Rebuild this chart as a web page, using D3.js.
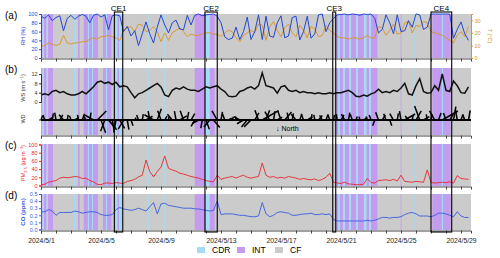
<!DOCTYPE html>
<html>
<head>
<meta charset="utf-8">
<script src="https://cdn.jsdelivr.net/npm/d3@7"></script>
<style>
    body { margin: 0; background: #fff; }
    svg text { font-family: "Liberation Sans", Arial, sans-serif; }
</style>
</head>
<body>
<div id="chart"></div>
<script>
// 6-hourly values, starting 2024/5/1 00:00
var rh = [95, 90, 98, 85, 92, 96, 62, 90, 97, 88, 95, 99, 95, 80, 97, 100,
    93, 98, 64, 96, 98, 96, 60, 72, 50, 62, 28, 55, 82, 55, 34, 70,
    98, 75, 57, 80, 86, 66, 64, 97, 75, 97, 100, 96, 98, 99, 100, 95,
    80, 48, 42, 45, 70, 42, 60, 93, 42, 60, 98, 42, 95, 50, 47, 80,
    96, 46, 50, 92, 95, 41, 60, 95, 45, 55, 98, 100, 60, 80, 90, 98,
    99, 100, 98, 100, 99, 97, 100, 99, 100, 90, 57, 65, 98, 80, 55, 98,
    60, 62, 85, 70, 100, 98, 65, 70, 100, 100, 100, 100, 100, 100, 45, 65,
    82, 55, 40];
var temp = [9, 10, 12, 11, 10, 11, 18, 12, 11, 12, 12, 13, 13, 15, 16, 15,
    17, 17, 18, 17, 16, 14, 22, 24, 25, 21, 27, 26, 21, 22, 25, 21,
    13, 20, 14, 20, 22, 24, 21, 17, 19, 18, 18, 19, 20, 20, 19, 19,
    17, 20, 22, 21, 16, 13, 18, 20, 22, 20, 27, 26, 14, 25, 29, 22,
    17, 24, 27, 20, 17, 26, 22, 16, 25, 23, 17, 18, 26, 22, 20, 17,
    16, 16, 15, 16, 16, 15, 16, 18, 16, 16, 25, 24, 18, 22, 27, 19,
    20, 28, 29, 20, 26, 25, 29, 28, 21, 20, 19, 18, 16, 14, 12, 18,
    21, 17, 25];
var ws = [3, 3.5, 3, 4.5, 5, 4, 4.5, 3.5, 3, 3, 3.5, 4.5, 3.5, 5, 6.5, 8.5,
    9, 8, 8.5, 7.5, 8.5, 6.5, 7, 6.5, 4, 1.8, 3.5, 4, 5, 6, 7, 8,
    6.5, 3, 2.3, 5, 6, 5.5, 6.5, 5.5, 5, 5, 4.5, 5.5, 6.5, 6, 6.5, 7,
    5.5, 4.5, 2.5, 2.3, 2.5, 4.5, 5, 6, 6.5, 5.5, 7, 12.5, 7, 6.5, 6, 3.8,
    6.5, 7, 5, 4.5, 5, 4, 4.5, 4, 4, 3.5, 4, 3.5, 3.5, 4, 3.5, 4,
    4, 4.5, 5, 4, 2.5, 2.3, 3, 2.5, 3.5, 4, 5.5, 4, 4.5, 4, 5, 4.5,
    6, 8, 3.5, 3, 7, 10, 4.5, 3.8, 4, 7, 5, 12, 5, 4.5, 9, 7,
    4, 3.8, 6.5];
var wd = [340, 20, 300, 350, 10, 330, 40, 350, 20, 300, 10, 340, 30, 350, 60, 315,
    200, 160, 220, 190, 170, 210, 150, 190, 200, 330, 20, 350, 300, 10, 60, 340,
    20, 330, 350, 40, 10, 300, 20, 350, 330, 150, 120, 170, 200, 140, 220, 30,
    350, 20, 300, 340, 10, 60, 120, 140, 135, 330, 20, 300, 340, 30, 350, 300,
    20, 320, 10, 350, 40, 340, 20, 300, 350, 10, 320, 30, 340, 20, 350, 10,
    330, 30, 350, 20, 340, 10, 300, 20, 20, 160, 20, 330, 20, 200, 30, 350,
    10, 300, 40, 350, 330, 20, 300, 10, 350, 30, 340, 300, 20, 330, 350, 10,
    340, 20, 350];
var pm25 = [2, 3, 8, 10, 12, 18, 20, 19, 20, 22, 21, 17, 18, 12, 9, 3,
    2, 6, 6, 5, 7, 6, 5, 10, 12, 15, 21, 25, 62, 34, 21, 34,
    45, 72, 42, 38, 35, 30, 28, 25, 22, 20, 18, 15, 12, 10, 9, 25,
    15, 18, 20, 22, 18, 22, 25, 20, 18, 20, 22, 55, 25, 20, 22, 18,
    20, 18, 22, 20, 18, 15, 17, 15, 14, 16, 12, 15, 20, 30, 8, 6,
    5, 8, 4, 3, 2, 2, 3, 17, 7, 6, 12, 13, 14, 12, 15, 11,
    25, 10, 9, 8, 10, 9, 8, 38, 7, 6, 7, 8, 7, 9, 6, 24,
    17, 16, 15];
var co = [.25, .25, .28, .26, .20, .24, .24, .24, .24, .26, .25, .23, .24, .25, .25, .24,
    .21, .20, .20, .21, .28, .31, .29, .28, .27, .28, .30, .28, .26, .32, .38, .22,
    .36, .37, .34, .33, .32, .31, .30, .30, .30, .29, .29, .28, .27, .26, .27, .40,
    .21, .22, .22, .22, .21, .20, .20, .19, .18, .18, .19, .38, .22, .18, .20, .24,
    .25, .24, .23, .20, .20, .21, .22, .22, .23, .21, .21, .22, .21, .22, .14, .12,
    .12, .12, .12, .12, .12, .12, .12, .13, .12, .13, .15, .17, .17, .16, .17, .17,
    .18, .21, .23, .24, .22, .19, .19, .19, .18, .20, .23, .23, .22, .20, .18, .25,
    .19, .17, .17];

// classification periods, in days from 2024/5/1 00:00
var periodType = ["INT", "CDR", "INT", "CDR", "INT", "CDR", "INT", "INT", "CDR", "INT", "CDR", "INT",
    "INT", "CDR", "INT", "CDR", "INT", "CDR", "CDR", "CDR", "INT", "CDR", "INT",
    "CDR", "INT", "CDR", "INT", "CDR", "INT", "CDR", "INT", "CDR", "INT", "CDR", "INT", "CDR", "INT",
    "INT", "CDR", "INT", "CDR", "INT"];
var periodStart = [0, 0.1, 0.2, 0.37, 0.47, 2.2, 2.47, 2.85, 3.13, 3.2, 3.4, 3.47,
    4.13, 4.33, 4.4, 4.98, 5.1, 5.2, 7.13, 8.22, 10.25, 11.0, 11.25,
    19.6, 19.67, 19.8, 19.93, 20.13, 20.27, 20.53, 20.67, 21.0, 21.13, 21.53, 21.71, 21.87, 22.0,
    23.98, 24.87, 26.09, 26.73, 26.8];
var periodEnd = [0.1, 0.2, 0.37, 0.47, 0.8, 2.31, 2.58, 3.13, 3.2, 3.4, 3.47, 3.8,
    4.33, 4.4, 4.69, 5.1, 5.2, 5.35, 7.18, 8.29, 11.0, 11.25, 11.58,
    19.67, 19.8, 19.93, 20.13, 20.27, 20.53, 20.67, 21.0, 21.13, 21.53, 21.71, 21.87, 22.0, 22.42,
    24.03, 24.91, 26.73, 26.8, 27.31];

var events = ["CE1", "CE2", "CE3", "CE4"];
var eventStart = [4.89, 10.93, 19.45, 26.0];
var eventEnd = [5.45, 11.75, 19.65, 27.38];

var legendItems = ["CDR", "INT", "CF"];
var colors = {CDR: "#a5dcf5", INT: "#c39cef", CF: "#cbcbcb"};

var width = 500, height = 258;
var t0 = new Date(2024, 4, 1);
var t1 = new Date(2024, 4, 29, 16);
var day = 864e5;
function toDate(d) { return new Date(t0.getTime() + d * day); }
var times = rh.map(function (d, i) { return toDate(i * 0.25); });

var x = d3.scaleTime().domain([t0, t1]).range([41, 471]);

var svg = d3.select("#chart").append("svg")
    .attr("width", width)
    .attr("height", height);

var panels = [
    {name: "a", top: 14, bottom: 58},
    {name: "b", top: 68, bottom: 135},
    {name: "c", top: 144, bottom: 186},
    {name: "d", top: 194, bottom: 230}
];

panels.forEach(function (p) {
    var g = svg.append("g");
    g.append("rect")
        .attr("x", x.range()[0]).attr("y", p.top)
        .attr("width", x.range()[1] - x.range()[0])
        .attr("height", p.bottom - p.top)
        .attr("fill", colors.CF);
    g.selectAll(".band")
        .data(periodType)
        .enter().append("rect")
        .attr("x", function (d, i) { return x(toDate(periodStart[i])); })
        .attr("y", p.top)
        .attr("width", function (d, i) { return x(toDate(periodEnd[i])) - x(toDate(periodStart[i])); })
        .attr("height", p.bottom - p.top)
        .attr("fill", function (d) { return colors[d]; });

    var xAxis = d3.axisBottom(x)
        .ticks(d3.timeDay.every(1))
        .tickSize(3)
        .tickFormat(function (d) {
            var n = Math.round((d - t0) / day);
            return (p.name === "d" && n % 4 === 0) ? d3.timeFormat("%Y/%-m/%-d")(d) : "";
        });
    var ax = g.append("g")
        .attr("transform", "translate(0," + (p.bottom + 0.5) + ")")
        .call(xAxis);
    ax.select(".domain").attr("stroke", "#444");
    ax.selectAll(".tick line").attr("stroke", "#444");
    ax.selectAll("text").attr("font-size", 6.8).attr("fill", "#222").attr("dy", "0.9em");

    g.append("text")
        .attr("x", 5).attr("y", p.top + 5)
        .attr("font-size", 10)
        .text("(" + p.name + ")");
});

function leftAxis(scale, ticks, color, fmt) {
    var g = svg.append("g")
        .attr("transform", "translate(41,0)")
        .call(d3.axisLeft(scale).tickValues(ticks).tickSize(2).tickPadding(1.5).tickFormat(fmt || d3.format("d")));
    g.select(".domain").attr("stroke", color);
    g.selectAll(".tick line").attr("stroke", color);
    g.selectAll("text").attr("font-size", 5.5).attr("fill", color);
    return g;
}

function yTitle(xPos, yPos, color, size, build) {
    var t = svg.append("text")
        .attr("transform", "translate(" + xPos + "," + yPos + ") rotate(-90)")
        .attr("text-anchor", "middle")
        .attr("font-size", size)
        .attr("fill", color);
    build(t);
    return t;
}

// (a) RH and T
var yRH = d3.scaleLinear().domain([0, 100]).range([58, 14]);
var yT = d3.scaleLinear().domain([0, 35]).range([58, 14]);
var rhColor = "#2346d6", tColor = "#d99420";

svg.append("path")
    .datum(temp)
    .attr("fill", "none").attr("stroke", tColor).attr("stroke-width", 0.9)
    .attr("d", d3.line().x(function (d, i) { return x(times[i]); }).y(function (d) { return yT(d); }));
svg.append("path")
    .datum(rh)
    .attr("fill", "none").attr("stroke", rhColor).attr("stroke-width", 1)
    .attr("d", d3.line().x(function (d, i) { return x(times[i]); }).y(function (d) { return yRH(d); }));

leftAxis(yRH, [0, 20, 40, 60, 80, 100], rhColor);
yTitle(25, 36, rhColor, 5.5, function (t) { t.text("RH (%)"); });

var rAx = svg.append("g")
    .attr("transform", "translate(471,0)")
    .call(d3.axisRight(yT).tickValues([0, 10, 20, 30]).tickSize(2).tickPadding(1.5));
rAx.select(".domain").attr("stroke", tColor);
rAx.selectAll(".tick line").attr("stroke", tColor);
rAx.selectAll("text").attr("font-size", 5.5).attr("fill", tColor);
svg.append("text")
    .attr("transform", "translate(488,36) rotate(90)")
    .attr("text-anchor", "middle")
    .attr("font-size", 5.5)
    .attr("fill", tColor)
    .text("T (°C)");

// (b) WS and WD sticks
var yWS = d3.scaleLinear().domain([0, 12]).range([102, 74]);
svg.append("path")
    .datum(ws)
    .attr("fill", "none").attr("stroke", "#111").attr("stroke-width", 1.5)
    .attr("d", d3.line().x(function (d, i) { return x(times[i]); }).y(function (d) { return yWS(d); }));
leftAxis(yWS, [0, 4, 8, 12], "#333");
yTitle(25, 88, "#333", 5.5, function (t) {
    t.append("tspan").text("WS (m s");
    t.append("tspan").attr("font-size", 4).attr("dy", -2).text("−1");
    t.append("tspan").attr("dy", 2).text(")");
});

var wdBase = 120, stickK = 1.5;
svg.append("line")
    .attr("x1", x.range()[0]).attr("x2", x.range()[1])
    .attr("y1", wdBase).attr("y2", wdBase)
    .attr("stroke", "#000").attr("stroke-width", 1.8);
svg.selectAll(".stick")
    .data(wd)
    .enter().append("line")
    .attr("class", "stick")
    .attr("x1", function (d, i) { return x(times[i]); })
    .attr("y1", wdBase)
    .attr("x2", function (d, i) { return x(times[i]) - Math.sin(d * Math.PI / 180) * ws[i] * stickK; })
    .attr("y2", function (d, i) { return wdBase - Math.cos(d * Math.PI / 180) * ws[i] * stickK; })
    .attr("stroke", "#000").attr("stroke-width", 1.5);
svg.append("line")
    .attr("x1", 39).attr("x2", 41).attr("y1", wdBase).attr("y2", wdBase)
    .attr("stroke", "#333");
yTitle(25, 119, "#333", 5.5, function (t) { t.text("WD"); });
svg.append("text")
    .attr("x", 276).attr("y", 131)
    .attr("font-size", 7)
    .text("↓ North");

// (c) PM2.5
var yPM = d3.scaleLinear().domain([0, 100]).range([185.5, 144.5]);
var pmColor = "#e8282b";
svg.append("path")
    .datum(pm25)
    .attr("fill", "none").attr("stroke", pmColor).attr("stroke-width", 0.9)
    .attr("d", d3.line().x(function (d, i) { return x(times[i]); }).y(function (d) { return yPM(d); }));
leftAxis(yPM, [0, 20, 40, 60, 80, 100], pmColor);
yTitle(25, 163, pmColor, 5.5, function (t) {
    t.append("tspan").text("PM");
    t.append("tspan").attr("font-size", 4).attr("dy", 1.5).text("2.5");
    t.append("tspan").attr("dy", -1.5).text(" (μg m");
    t.append("tspan").attr("font-size", 4).attr("dy", -2).text("−3");
    t.append("tspan").attr("dy", 2).text(")");
});

// (d) CO
var yCO = d3.scaleLinear().domain([0, 0.5]).range([229.5, 194]);
var coColor = "#3a5be0";
svg.append("path")
    .datum(co)
    .attr("fill", "none").attr("stroke", coColor).attr("stroke-width", 0.9)
    .attr("d", d3.line().x(function (d, i) { return x(times[i]); }).y(function (d) { return yCO(d); }));
leftAxis(yCO, [0, 0.1, 0.2, 0.3, 0.4, 0.5], coColor, d3.format(".1f"));
yTitle(25, 212, coColor, 6, function (t) { t.attr("font-weight", "bold").text("CO (ppm)"); });

// contamination events
svg.selectAll(".ce")
    .data(events)
    .enter().append("rect")
    .attr("class", "ce")
    .attr("x", function (d, i) { return x(toDate(eventStart[i])); })
    .attr("y", 12)
    .attr("width", function (d, i) { return x(toDate(eventEnd[i])) - x(toDate(eventStart[i])); })
    .attr("height", 220)
    .attr("fill", "none")
    .attr("stroke", "#000")
    .attr("stroke-width", 1.1);
svg.selectAll(".ceLabel")
    .data(events)
    .enter().append("text")
    .attr("x", function (d, i) { return (x(toDate(eventStart[i])) + x(toDate(eventEnd[i]))) / 2; })
    .attr("y", 10.5)
    .attr("text-anchor", "middle")
    .attr("font-size", 8)
    .text(function (d) { return d; });

// legend
var legendX = [197, 237, 275];
var legend = svg.selectAll(".legend")
    .data(legendItems)
    .enter().append("g")
    .attr("class", "legend")
    .attr("transform", function (d, i) { return "translate(" + legendX[i] + ",247)"; });
legend.append("rect")
    .attr("width", 8).attr("height", 6)
    .attr("fill", function (d) { return colors[d]; });
legend.append("text")
    .attr("x", 15).attr("y", 6)
    .attr("font-size", 8.5)
    .text(function (d) { return d; });
</script>
</body>
</html>
